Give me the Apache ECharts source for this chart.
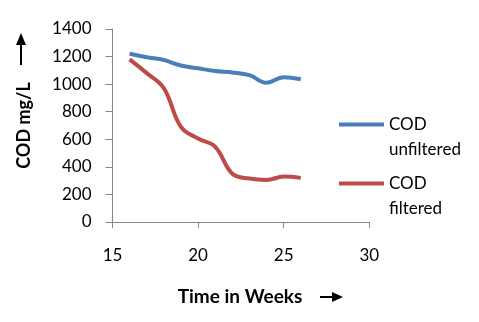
<!DOCTYPE html>
<html lang="en">
<head>
    <meta charset="UTF-8">
    <title>COD</title>
    <script src="https://cdn.jsdelivr.net/npm/echarts@6/dist/echarts.min.js"></script>
    <style>
        body { margin: 0; background: #fff; }
    </style>
</head>
<body>

<div id="wrap" style="width: 479px; height: 322px;"></div>

<script>
    var weeks = [16, 17, 18, 19, 20, 21, 22, 23, 24, 25, 26];
    var cod_unfiltered = [1220, 1195, 1175, 1135, 1115, 1095, 1085, 1065, 1010, 1050, 1035];
    var cod_filtered = [1180, 1080, 970, 690, 605, 545, 350, 315, 305, 330, 320];
    var series_names = ["COD unfiltered", "COD filtered"];

    function pairs(vals) {
        return weeks.map(function (w, i) { return [w, vals[i]]; });
    }

    var font = "Lato, 'Open Sans', sans-serif";
    var axisColor = "#868686";

    var myChart = echarts.init(document.getElementById("wrap"), null, {renderer: "canvas"});

    var option = {
        animation: false,
        grid: {
            left: 112.5,
            right: 109.7,
            top: 29,
            bottom: 100
        },
        legend: {
            left: 334,
            top: 82,
            orient: "vertical",
            icon: "rect",
            itemWidth: 45,
            itemHeight: 4,
            itemGap: -16,
            data: series_names,
            formatter: function (name) {
                return "\n" + name.replace(" ", "\n");
            },
            textStyle: {
                fontFamily: font,
                fontSize: 17,
                lineHeight: 25,
                color: "#000"
            }
        },
        xAxis: {
            type: "value",
            min: 15,
            max: 30,
            interval: 5,
            splitLine: {show: false},
            axisLine: {lineStyle: {color: axisColor, width: 1}},
            axisTick: {show: true, length: 6, lineStyle: {color: axisColor}},
            axisLabel: {
                margin: 25,
                fontFamily: font,
                fontSize: 17,
                color: "#000"
            }
        },
        yAxis: {
            type: "value",
            min: 0,
            max: 1400,
            interval: 200,
            splitLine: {show: false},
            axisLine: {show: true, lineStyle: {color: axisColor, width: 1}},
            axisTick: {show: true, length: 7, lineStyle: {color: axisColor}},
            axisLabel: {
                margin: 21,
                fontFamily: font,
                fontSize: 17,
                color: "#000",
                formatter: function (v) { return String(v); }
            }
        },
        graphic: [
            {
                type: "text",
                x: 24,
                y: 125.5,
                rotation: Math.PI / 2,
                style: {
                    text: "COD mg/L",
                    font: "bold 18px " + font,
                    fill: "#000",
                    align: "center",
                    verticalAlign: "middle"
                }
            },
            {
                type: "line",
                shape: {x1: 21, y1: 65, x2: 21, y2: 42},
                style: {stroke: "#000", lineWidth: 2}
            },
            {
                type: "polygon",
                shape: {points: [[21, 33], [16, 45], [26, 45]]},
                style: {fill: "#000"}
            },
            {
                type: "text",
                x: 240,
                y: 297,
                style: {
                    text: "Time in Weeks",
                    font: "bold 19px " + font,
                    fill: "#000",
                    align: "center",
                    verticalAlign: "middle"
                }
            },
            {
                type: "line",
                shape: {x1: 320, y1: 297, x2: 334, y2: 297},
                style: {stroke: "#000", lineWidth: 2}
            },
            {
                type: "polygon",
                shape: {points: [[343, 297], [332, 292], [332, 302]]},
                style: {fill: "#000"}
            }
        ],
        series: [
            {
                name: series_names[0],
                type: "line",
                smooth: 0.4,
                showSymbol: false,
                data: pairs(cod_unfiltered),
                lineStyle: {color: "#4a7ebb", width: 4},
                itemStyle: {color: "#4a7ebb"}
            },
            {
                name: series_names[1],
                type: "line",
                smooth: 0.4,
                showSymbol: false,
                data: pairs(cod_filtered),
                lineStyle: {color: "#be4b48", width: 4},
                itemStyle: {color: "#be4b48"}
            }
        ]
    };

    myChart.setOption(option);
</script>
</body>
</html>
